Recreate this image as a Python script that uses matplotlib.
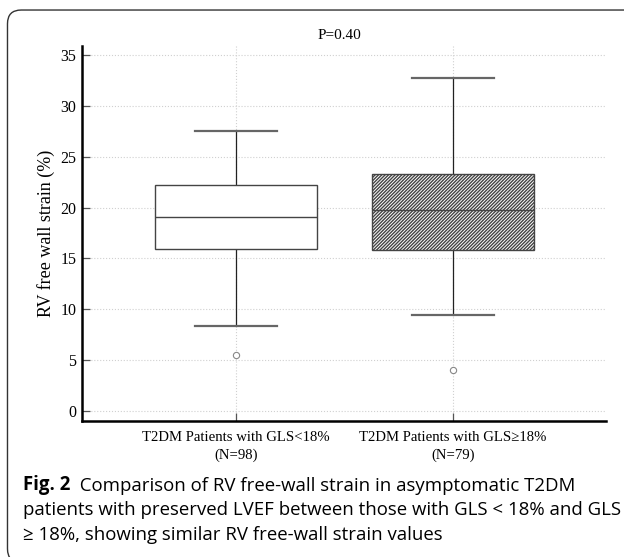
import matplotlib.pyplot as plt
from matplotlib.patches import FancyBboxPatch

# values
groups = ['T2DM Patients with GLS<18%\n(N=98)', 'T2DM Patients with GLS\u226518%\n(N=79)']
q1 = [15.9, 15.8]
median = [19.1, 19.8]
q3 = [22.2, 23.3]
whislo = [8.3, 9.4]
whishi = [27.5, 32.8]
fliers = [[5.5], [4.0]]
p_text = 'P=0.40'
yticks = [0, 5, 10, 15, 20, 25, 30, 35]

caption = ['Comparison of RV free-wall strain in asymptomatic T2DM',
           'patients with preserved LVEF between those with GLS < 18% and GLS',
           '\u2265 18%, showing similar RV free-wall strain values']

plt.rcParams['font.family'] = ['Liberation Serif', 'DejaVu Serif']
plt.rcParams['hatch.linewidth'] = 1.0

fig = plt.figure(figsize=(6.24, 5.57), dpi=100)
ax = fig.add_axes([0.1314, 0.2442, 0.8396, 0.6732])

stats = []
for i in range(len(groups)):
    stats.append({'med': median[i], 'q1': q1[i], 'q3': q3[i],
                  'whislo': whislo[i], 'whishi': whishi[i], 'fliers': fliers[i]})

bp = ax.bxp(stats, positions=[1, 2], widths=0.75, patch_artist=True,
            boxprops=dict(edgecolor='#444444', linewidth=1.0),
            medianprops=dict(color='#444444', linewidth=1.0),
            whiskerprops=dict(color='#222222', linewidth=0.9),
            capprops=dict(color='#666666', linewidth=1.6),
            flierprops=dict(marker='o', markersize=4.5, markerfacecolor='white',
                            markeredgecolor='#888888', markeredgewidth=0.8),
            capwidths=0.375)
bp['boxes'][0].set_facecolor('white')
bp['boxes'][1].set_facecolor('white')
bp['boxes'][1].set_hatch('//////////')
for b in bp['boxes']:
    b.set_zorder(3)
for m in bp['medians']:
    m.set_zorder(4)

ax.set_xlim(0.29, 2.705)
ax.set_ylim(-1, 35.9)
ax.set_yticks(yticks)
ax.set_xticks([1, 2])
ax.set_xticklabels(groups, fontsize=10.6, linespacing=1.45)
ax.tick_params(axis='y', direction='in', labelsize=11.5, length=6, width=0.9,
               color='#555555', pad=4)
ax.tick_params(axis='x', direction='in', length=6, width=0.9, color='#555555', pad=7)
ax.grid(True, color='#d0d0d0', linestyle=':', linewidth=0.8)
ax.set_axisbelow(True)
for s in ['top', 'right']:
    ax.spines[s].set_visible(False)
for s in ['left', 'bottom']:
    ax.spines[s].set_linewidth(1.8)
ax.set_ylabel('RV free wall strain (%)', fontsize=13, labelpad=4)
ax.set_title(p_text, fontsize=11, pad=5, x=0.491)

# caption with bold figure number
sans = ['Open Sans', 'DejaVu Sans']
cap_size = 13.4
t = fig.text(0.037, 0.121, 'Fig. 2', fontsize=cap_size, fontweight='bold', family=sans,
             va='baseline')
plt.annotate('  ' + caption[0], xy=(1, 0), xycoords=t, fontsize=cap_size, family=sans,
             va='bottom', ha='left', annotation_clip=False)
fig.text(0.037, 0.076, caption[1], fontsize=cap_size, family=sans, va='baseline')
fig.text(0.037, 0.031, caption[2], fontsize=cap_size, family=sans, va='baseline')

frame = FancyBboxPatch((0.012, -0.01), 1.02, 0.992, boxstyle='round,pad=0,rounding_size=0.022',
                       transform=fig.transFigure, fill=False, edgecolor='#333333',
                       linewidth=1.0, mutation_aspect=624 / 557)
fig.add_artist(frame)

fig.savefig('out.png', dpi=100)
